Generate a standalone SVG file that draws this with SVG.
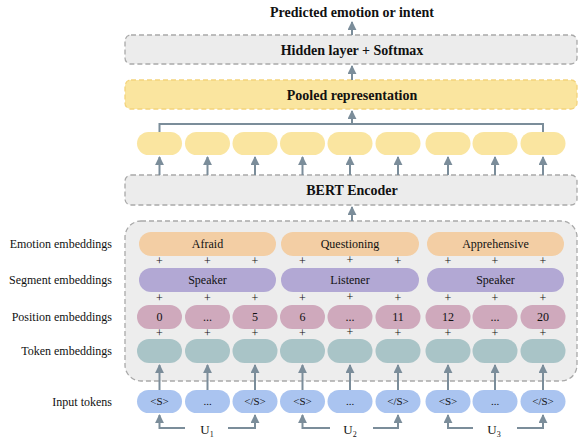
<svg xmlns="http://www.w3.org/2000/svg" width="578" height="441" viewBox="0 0 578 441">
<defs>
<marker id="ah" viewBox="0 0 10 10" refX="9" refY="5" markerWidth="4.5" markerHeight="4.5" orient="auto" markerUnits="strokeWidth">
<path d="M0,0 L10,5 L0,10 z" fill="#7b8d9a"/>
</marker>
<style>
.t{font-family:"Liberation Serif","Times New Roman",serif;fill:#111}
.b{font-weight:bold;font-size:14px;text-anchor:middle}
.lbl{font-size:12px;text-anchor:end}
.pt{font-size:12px;text-anchor:middle}
.pl{font-size:12px;text-anchor:middle}
.plus{font-family:"Liberation Serif","Times New Roman",serif;font-size:12px;text-anchor:middle;fill:#111}
.box{fill:#ececec;stroke:#a9a9a9;stroke-width:1.3;stroke-dasharray:5,3}
.pool{fill:#fae59f;stroke:#f3d37c;stroke-width:1.3;stroke-dasharray:5,3}
.y{fill:#fae5a0}
.emo{fill:#f3cea4}
.seg{fill:#b2a8d4}
.pos{fill:#cfa9bc}
.tok{fill:#a9c4c7}
.inp{fill:#aac4f0}
.c{stroke:#7b8d9a;stroke-width:2;fill:none}
.ca{stroke:#7b8d9a;stroke-width:2;fill:none;marker-end:url(#ah)}
</style>
</defs>

<g id="output"><text class="t b" x="352" y="17">Predicted emotion or intent</text></g>

<g id="hidden"><rect class="box" x="125" y="35" width="452" height="29" rx="6"/><text class="t b" x="352" y="55">Hidden layer + Softmax</text></g>

<g id="pooled"><rect class="pool" x="125" y="80" width="452" height="29" rx="6"/><text class="t b" x="352" y="100">Pooled representation</text></g>

<g id="bert"><rect class="box" x="125" y="175" width="452" height="30" rx="6"/><text class="t b" x="352" y="195">BERT Encoder</text></g>

<g id="hiddenstates">
<rect class="y" x="137" y="132" width="45" height="23" rx="11.5"/>
<rect class="y" x="185" y="132" width="45" height="23" rx="11.5"/>
<rect class="y" x="232.5" y="132" width="45" height="23" rx="11.5"/>
<rect class="y" x="280" y="132" width="45" height="23" rx="11.5"/>
<rect class="y" x="327.5" y="132" width="45" height="23" rx="11.5"/>
<rect class="y" x="375.5" y="132" width="45" height="23" rx="11.5"/>
<rect class="y" x="425.5" y="132" width="45" height="23" rx="11.5"/>
<rect class="y" x="472.5" y="132" width="45" height="23" rx="11.5"/>
<rect class="y" x="520.5" y="132" width="45" height="23" rx="11.5"/>
</g>

<g id="embeddings">
<rect x="125" y="221" width="452" height="160" rx="16" fill="#ededed" stroke="#a9a9a9" stroke-width="1.3" stroke-dasharray="5,3"/>
<rect class="emo" x="139" y="232" width="137" height="24" rx="12"/>
<rect class="emo" x="281" y="232" width="138" height="24" rx="12"/>
<rect class="emo" x="427" y="232" width="137" height="24" rx="12"/>
<text class="t pl" x="207.5" y="248">Afraid</text>
<text class="t pl" x="350" y="248">Questioning</text>
<text class="t pl" x="495.5" y="248">Apprehensive</text>
<rect class="seg" x="139" y="268" width="137" height="24" rx="12"/>
<rect class="seg" x="281" y="268" width="138" height="24" rx="12"/>
<rect class="seg" x="427" y="268" width="137" height="24" rx="12"/>
<text class="t pl" x="207.5" y="284">Speaker</text>
<text class="t pl" x="350" y="284">Listener</text>
<text class="t pl" x="495.5" y="284">Speaker</text>
<rect class="pos" x="137" y="305" width="45" height="24" rx="12"/>
<rect class="pos" x="185" y="305" width="45" height="24" rx="12"/>
<rect class="pos" x="232.5" y="305" width="45" height="24" rx="12"/>
<rect class="pos" x="280" y="305" width="45" height="24" rx="12"/>
<rect class="pos" x="327.5" y="305" width="45" height="24" rx="12"/>
<rect class="pos" x="375.5" y="305" width="45" height="24" rx="12"/>
<rect class="pos" x="425.5" y="305" width="45" height="24" rx="12"/>
<rect class="pos" x="472.5" y="305" width="45" height="24" rx="12"/>
<rect class="pos" x="520.5" y="305" width="45" height="24" rx="12"/>
<text class="t pt" x="159.5" y="321">0</text>
<text class="t pt" x="207.5" y="321">...</text>
<text class="t pt" x="255" y="321">5</text>
<text class="t pt" x="302.5" y="321">6</text>
<text class="t pt" x="350" y="321">...</text>
<text class="t pt" x="398" y="321">11</text>
<text class="t pt" x="448" y="321">12</text>
<text class="t pt" x="495" y="321">...</text>
<text class="t pt" x="543" y="321">20</text>
<rect class="tok" x="137" y="339" width="45" height="24" rx="12"/>
<rect class="tok" x="185" y="339" width="45" height="24" rx="12"/>
<rect class="tok" x="232.5" y="339" width="45" height="24" rx="12"/>
<rect class="tok" x="280" y="339" width="45" height="24" rx="12"/>
<rect class="tok" x="327.5" y="339" width="45" height="24" rx="12"/>
<rect class="tok" x="375.5" y="339" width="45" height="24" rx="12"/>
<rect class="tok" x="425.5" y="339" width="45" height="24" rx="12"/>
<rect class="tok" x="472.5" y="339" width="45" height="24" rx="12"/>
<rect class="tok" x="520.5" y="339" width="45" height="24" rx="12"/>
<text class="plus" x="159.5" y="265">+</text><text class="plus" x="207.5" y="265">+</text><text class="plus" x="255" y="265">+</text>
<text class="plus" x="302.5" y="265">+</text><text class="plus" x="350" y="264">+</text><text class="plus" x="398" y="265">+</text>
<text class="plus" x="448" y="265">+</text><text class="plus" x="495" y="265">+</text><text class="plus" x="543" y="265">+</text>
<text class="plus" x="159.5" y="302">+</text><text class="plus" x="207.5" y="302">+</text><text class="plus" x="255" y="302">+</text>
<text class="plus" x="302.5" y="302">+</text><text class="plus" x="350" y="301">+</text><text class="plus" x="398" y="302">+</text>
<text class="plus" x="448" y="302">+</text><text class="plus" x="495" y="302">+</text><text class="plus" x="543" y="302">+</text>
<text class="plus" x="159.5" y="337">+</text><text class="plus" x="207.5" y="337">+</text><text class="plus" x="255" y="337">+</text>
<text class="plus" x="302.5" y="337">+</text><text class="plus" x="350" y="336">+</text><text class="plus" x="398" y="337">+</text>
<text class="plus" x="448" y="337">+</text><text class="plus" x="495" y="337">+</text><text class="plus" x="543" y="337">+</text>
</g>

<g id="inputs">
<rect class="inp" x="137" y="390" width="45" height="23" rx="11.5"/>
<rect class="inp" x="185" y="390" width="45" height="23" rx="11.5"/>
<rect class="inp" x="232.5" y="390" width="45" height="23" rx="11.5"/>
<rect class="inp" x="280" y="390" width="45" height="23" rx="11.5"/>
<rect class="inp" x="327.5" y="390" width="45" height="23" rx="11.5"/>
<rect class="inp" x="375.5" y="390" width="45" height="23" rx="11.5"/>
<rect class="inp" x="425.5" y="390" width="45" height="23" rx="11.5"/>
<rect class="inp" x="472.5" y="390" width="45" height="23" rx="11.5"/>
<rect class="inp" x="520.5" y="390" width="45" height="23" rx="11.5"/>
<g class="t" font-size="11" text-anchor="middle">
<text x="159.5" y="405">&lt;S&gt;</text><text x="207.5" y="405">...</text><text x="255" y="405">&lt;/S&gt;</text>
<text x="302.5" y="405">&lt;S&gt;</text><text x="350" y="405">...</text><text x="398" y="405">&lt;/S&gt;</text>
<text x="448" y="405">&lt;S&gt;</text><text x="495" y="405">...</text><text x="543" y="405">&lt;/S&gt;</text>
</g>
<g class="t" font-size="13" text-anchor="middle">
<text x="207" y="434">U<tspan font-size="8" dy="3">1</tspan></text>
<text x="350" y="434">U<tspan font-size="8" dy="3">2</tspan></text>
<text x="494" y="434">U<tspan font-size="8" dy="3">3</tspan></text>
</g>
</g>

<g id="labels" class="t lbl">
<text x="112" y="248">Emotion embeddings</text>
<text x="112" y="284">Segment embeddings</text>
<text x="112" y="321">Position embeddings</text>
<text x="112" y="355">Token embeddings</text>
<text x="112" y="406">Input tokens</text>
</g>

<g id="connectors">
<line class="ca" x1="352" y1="35" x2="352" y2="22"/>
<line class="ca" x1="352" y1="80" x2="352" y2="66"/>
<path class="c" d="M159.5,132 V124 H543 V132"/>
<line class="ca" x1="352" y1="124" x2="352" y2="111"/>
<line class="ca" x1="352" y1="221" x2="352" y2="207"/>
<line class="ca" x1="159.5" y1="175" x2="159.5" y2="157"/>
<line class="ca" x1="207.5" y1="175" x2="207.5" y2="157"/>
<line class="ca" x1="255" y1="175" x2="255" y2="157"/>
<line class="ca" x1="302.5" y1="175" x2="302.5" y2="157"/>
<line class="ca" x1="350" y1="175" x2="350" y2="157"/>
<line class="ca" x1="398" y1="175" x2="398" y2="157"/>
<line class="ca" x1="448" y1="175" x2="448" y2="157"/>
<line class="ca" x1="495" y1="175" x2="495" y2="157"/>
<line class="ca" x1="543" y1="175" x2="543" y2="157"/>
<line class="ca" x1="159.5" y1="390" x2="159.5" y2="365"/>
<line class="ca" x1="207.5" y1="390" x2="207.5" y2="365"/>
<line class="ca" x1="255" y1="390" x2="255" y2="365"/>
<line class="ca" x1="302.5" y1="390" x2="302.5" y2="365"/>
<line class="ca" x1="350" y1="390" x2="350" y2="365"/>
<line class="ca" x1="398" y1="390" x2="398" y2="365"/>
<line class="ca" x1="448" y1="390" x2="448" y2="365"/>
<line class="ca" x1="495" y1="390" x2="495" y2="365"/>
<line class="ca" x1="543" y1="390" x2="543" y2="365"/>
<path class="ca" d="M185,428 H159.5 V415"/>
<path class="ca" d="M228,428 H255 V415"/>
<path class="ca" d="M330,428 H302.5 V415"/>
<path class="ca" d="M373,428 H398 V415"/>
<path class="ca" d="M473,428 H448 V415"/>
<path class="ca" d="M517,428 H543 V415"/>
</g>
</svg>
